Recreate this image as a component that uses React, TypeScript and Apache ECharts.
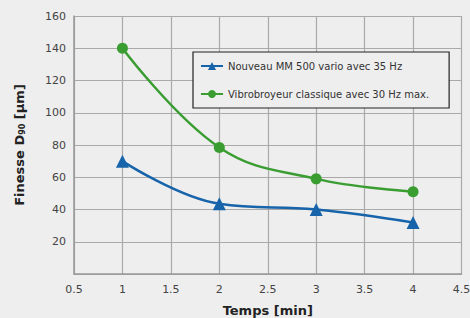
import React, { useEffect, useRef } from "react";
import * as echarts from "echarts";

const times = [1, 2, 3, 4];
const mm500 = [70, 43.5, 40, 32];
const vibro = [140, 78.5, 59, 51];
const seriesNames = ["Nouveau MM 500 vario avec 35 Hz", "Vibrobroyeur classique avec 30 Hz max."];

export default function App() {
  const ref = useRef<HTMLDivElement>(null);
  useEffect(() => {
    document.body.style.margin = "0";
    const chart = echarts.init(ref.current!, null, { renderer: "svg" });
    const font = "DejaVu Sans";
    chart.setOption({
      animation: false,
      backgroundColor: "#eeeeee",
      textStyle: { fontFamily: font },
      grid: { left: 74, right: 8.5, top: 16, bottom: 44, outerBoundsMode: "none", containLabel: false },
      legend: {
        left: 193,
        top: 52,
        orient: "vertical",
        backgroundColor: "#eeeeee",
        borderColor: "#222",
        borderWidth: 1.2,
        borderRadius: 0,
        padding: [9, 20, 9, 7],
        itemGap: 18,
        itemWidth: 22,
        itemHeight: 10,
        textStyle: { fontSize: 10, color: "#333", fontFamily: font },
        data: seriesNames,
      },
      xAxis: {
        type: "value",
        min: 0.5,
        max: 4.5,
        interval: 0.5,
        name: "Temps [min]",
        nameLocation: "middle",
        nameGap: 30,
        nameTextStyle: { fontSize: 13, fontWeight: "bold", color: "#222", fontFamily: font },
        axisLine: { show: true, lineStyle: { color: "#999", width: 1.5 } },
        axisTick: { show: false },
        axisLabel: { color: "#444", fontSize: 11, margin: 10, fontFamily: font },
        splitLine: { show: true, lineStyle: { color: "#aaa", width: 1.2 } },
      },
      yAxis: {
        type: "value",
        min: 0,
        max: 160,
        interval: 20,
        name: "{b|Finesse D}{s|90}{b| [µm]}",
        nameLocation: "middle",
        nameGap: 48,
        nameRotate: 90,
        nameTextStyle: {
          rich: {
            b: { fontSize: 13, fontWeight: "bold", color: "#222", fontFamily: font },
            s: { fontSize: 8, fontWeight: "bold", color: "#222", verticalAlign: "bottom", padding: [6, 0, 0, 0], fontFamily: font },
          },
        },
        axisLine: { show: true, lineStyle: { color: "#999", width: 1.5 } },
        axisTick: { show: false },
        axisLabel: { color: "#444", fontSize: 11, showMinLabel: false, margin: 8, fontFamily: font },
        splitLine: { show: true, lineStyle: { color: "#aaa", width: 1.2 } },
      },
      series: [
        {
          name: seriesNames[0],
          type: "line",
          smooth: 0.4,
          data: times.map((t, i) => [t, mm500[i]]),
          symbol: "triangle",
          symbolSize: 13,
          itemStyle: { color: "#1864ab" },
          lineStyle: { color: "#1864ab", width: 2.5 },
        },
        {
          name: seriesNames[1],
          type: "line",
          smooth: 0.4,
          data: times.map((t, i) => [t, vibro[i]]),
          symbol: "circle",
          symbolSize: 11,
          itemStyle: { color: "#3a9d32" },
          lineStyle: { color: "#3a9d32", width: 2.5 },
        },
      ],
    });
    return () => chart.dispose();
  }, []);
  return <div ref={ref} style={{ width: 470, height: 318, background: "#eeeeee" }} />;
}
